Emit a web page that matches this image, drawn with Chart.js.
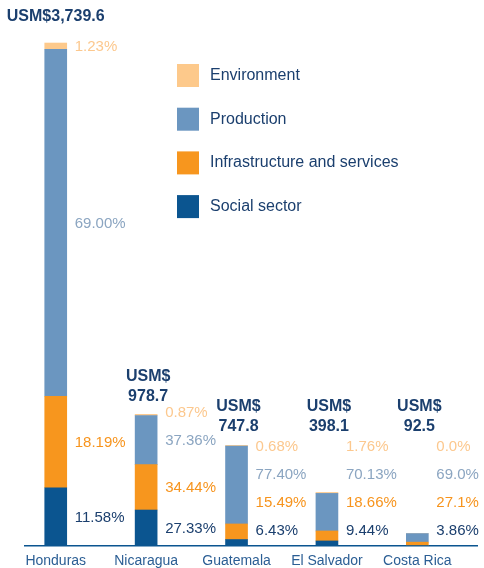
<!DOCTYPE html>
<html>
<head>
<meta charset="utf-8">
<script src="https://cdn.jsdelivr.net/npm/chart.js@4"></script>
<style>
  html, body { margin: 0; padding: 0; background: #fff; }
  #wrap { width: 484px; height: 568px; position: relative; }
</style>
</head>
<body>
<div id="wrap"><canvas id="sectorChart"></canvas></div>
<script>
// data
var categories = ["Honduras", "Nicaragua", "Guatemala", "El Salvador", "Costa Rica"];
var totals = [3739.6, 978.7, 747.8, 398.1, 92.5];
var totalLabels = ["3,739.6", "978.7", "747.8", "398.1", "92.5"];
var socialPct = [11.58, 27.33, 6.43, 9.44, 3.86];
var infraPct = [18.19, 34.44, 15.49, 18.66, 27.1];
var productionPct = [69.00, 37.36, 77.40, 70.13, 69.0];
var environmentPct = [1.23, 0.87, 0.68, 1.76, 0.0];
var pctLabels = [
  ["11.58%", "27.33%", "6.43%", "9.44%", "3.86%"],
  ["18.19%", "34.44%", "15.49%", "18.66%", "27.1%"],
  ["69.00%", "37.36%", "77.40%", "70.13%", "69.0%"],
  ["1.23%", "0.87%", "0.68%", "1.76%", "0.0%"]
];

var FONT = "'Liberation Sans', Arial, sans-serif";
var NAVY = "#1b3f6e";

function amounts(pct) {
  return pct.map(function (p, i) { return { x: i, y: totals[i] * p / 100 }; });
}

var series = [
  { label: "Social sector", pct: socialPct, color: "#0b5590", text: NAVY },
  { label: "Infrastructure and services", pct: infraPct, color: "#f7961e", text: "#f7941d" },
  { label: "Production", pct: productionPct, color: "#6b96c0", text: "#8ba5c1" },
  { label: "Environment", pct: environmentPct, color: "#fdc98b", text: "#fcc88e" }
];

var labelPlugin = {
  id: "barLabels",
  afterDatasetsDraw: function (chart) {
    var ctx = chart.ctx;
    var area = chart.chartArea;
    ctx.save();
    ctx.textBaseline = "middle";
    categories.forEach(function (cat, i) {
      var bars = series.map(function (s, k) { return chart.getDatasetMeta(k).data[i]; });
      var top = Math.min.apply(null, bars.map(function (b) { return b.y; }));
      var x = bars[0].x, half = bars[0].width / 2;

      // percentage labels beside the bar, pushed up when they crowd
      var prev = area.bottom - 15;
      ctx.font = "15px " + FONT;
      ctx.textAlign = "left";
      series.forEach(function (s, k) {
        var mid = (bars[k].y + bars[k].base) / 2 + 1;
        var y = Math.min(mid, k === 0 ? prev : prev - 28);
        prev = y;
        ctx.fillStyle = s.text;
        ctx.fillText(pctLabels[k][i], x + half + 8, y);
      });

      // total above the bar
      ctx.font = "bold 16px " + FONT;
      ctx.fillStyle = NAVY;
      ctx.textAlign = "center";
      var last = Math.min(top - 18, area.bottom - 119);
      if (last - 20 < 20) {
        ctx.fillText("USM$" + totalLabels[i], x, top - 26);
      } else {
        ctx.fillText("USM$", x + 2, last - 20);
        ctx.fillText(totalLabels[i], x + 2, last);
      }
    });
    // legend, top series first
    var lx = area.left + 152;
    ctx.font = "16px " + FONT;
    ctx.textAlign = "left";
    series.slice().reverse().forEach(function (s, r) {
      var ly = 75.5 + r * 43.7;
      ctx.fillStyle = s.color;
      ctx.fillRect(lx, ly - 11.5, 22, 23);
      ctx.fillStyle = NAVY;
      ctx.fillText(s.label, lx + 33, ly);
    });
    ctx.restore();
  }
};

var ctx = document.getElementById("sectorChart").getContext("2d");
var sectorChart = new Chart(ctx, {
  type: "bar",
  data: {
    datasets: series.map(function (s) {
      return {
        label: s.label,
        data: amounts(s.pct),
        backgroundColor: s.color,
        borderWidth: 0,
        barThickness: 22
      };
    })
  },
  options: {
    responsive: true,
    maintainAspectRatio: false,
    animation: false,
    layout: { padding: { left: 25, right: 7, top: 8, bottom: 0 } },
    plugins: { legend: { display: false }, tooltip: { enabled: false } },
    scales: {
      x: {
        type: "linear",
        min: -0.34,
        max: 4.66,
        offset: false,
        stacked: true,
        grid: { display: false, drawTicks: false },
        border: { display: true, color: "#0b5590", width: 1.5 },
        afterBuildTicks: function (scale) {
          scale.ticks = categories.map(function (c, i) { return { value: i }; });
        },
        afterFit: function (scale) { scale.height = 22; },
        ticks: {
          padding: 7,
          color: "#2b5e94",
          font: { family: FONT, size: 14 },
          callback: function (v) { return categories[v]; }
        }
      },
      y: {
        stacked: true,
        display: false,
        min: 0,
        max: 4000
      }
    }
  },
  plugins: [labelPlugin]
});
</script>
</body>
</html>
